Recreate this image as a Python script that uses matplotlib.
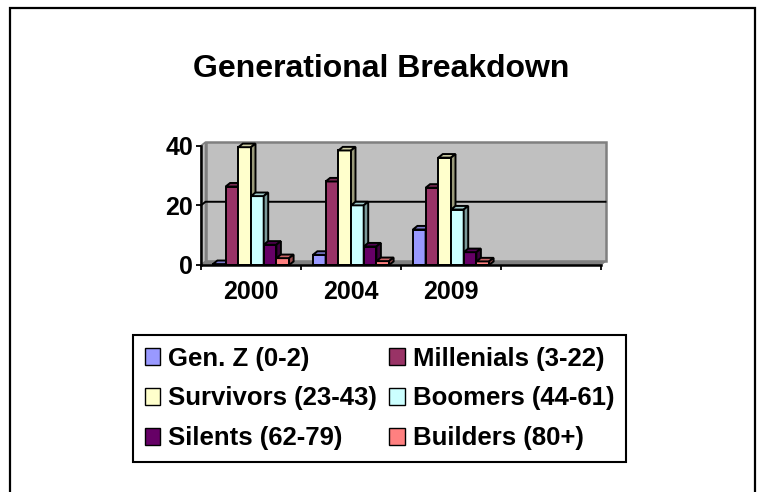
import numpy as np
import matplotlib
matplotlib.use("Agg")
import matplotlib.pyplot as plt
from matplotlib.patches import Polygon, Rectangle, Patch
from matplotlib.colors import to_rgb

plt.rcParams['font.family'] = ['Liberation Sans', 'DejaVu Sans']
plt.rcParams['font.weight'] = 'bold'

years = ['2000', '2004', '2009', '']
series_names = ['Gen. Z (0-2)', 'Millenials (3-22)', 'Survivors (23-43)',
                'Boomers (44-61)', 'Silents (62-79)', 'Builders (80+)']
gen_z = [0.3, 3.4, 11.9]
millenials = [26.3, 28.0, 25.9]
survivors = [39.5, 38.4, 36.0]
boomers = [23.1, 20.0, 18.6]
silents = [6.8, 6.2, 4.3]
builders = [2.3, 1.3, 1.2]
colors = ['#9999FF', '#993366', '#FFFFCC', '#CCFFFF', '#660066', '#FF8080']
y_ticks = [0, 20, 40]

values = [gen_z, millenials, survivors, boomers, silents, builders]


def shade(c, f):
    r, g, b = to_rgb(c)
    return (r * f, g * f, b * f)


W, H = 763, 492
fig = plt.figure(figsize=(W / 100, H / 100), dpi=100)
ax = fig.add_axes([201 / W, 1 - 265 / H, 400 / W, (265 - 145.7) / H])
ax.set_xlim(0, 4)
ax.set_ylim(0, 40)
ax.patch.set_visible(False)

dx, dy = 0.045, 1.2   # 3d depth in data units
bw = 0.127
lw = 1.4

# walls and floor
ax.add_patch(Polygon([(0, 0), (dx, dy), (dx, 40 + dy), (0, 40)], closed=True,
                     facecolor='#C0C0C0', edgecolor='#808080', lw=1.2, zorder=0, clip_on=False))
ax.add_patch(Rectangle((dx, dy), 4, 40, facecolor='#C0C0C0', edgecolor='#808080',
                       lw=1.8, zorder=0, clip_on=False))
ax.add_patch(Polygon([(0, 0), (dx, dy), (4 + dx, dy), (4, 0)], closed=True,
                     facecolor='#808080', edgecolor='#808080', lw=0.8, zorder=0.5, clip_on=False))
for t in y_ticks[1:-1]:
    ax.plot([0, dx, 4 + dx], [t, t + dy, t + dy], color='black', lw=1.4, zorder=1, clip_on=False)

# bars, left to right so the side faces overlap properly
k = 0
for c in range(len(gen_z)):
    for i, vals in enumerate(values):
        x0 = c + 0.5 + (i - 3) * bw
        h = vals[c]
        z = 3 + k * 0.1
        ax.bar(x0, h, width=bw, align='edge', color=colors[i], edgecolor='black',
               lw=lw, zorder=z, clip_on=False)
        x1 = x0 + bw
        ax.add_patch(Polygon([(x0, h), (x0 + dx, h + dy), (x1 + dx, h + dy), (x1, h)], closed=True,
                             facecolor=shade(colors[i], 0.8), edgecolor='black', lw=lw,
                             zorder=z, clip_on=False))
        ax.add_patch(Polygon([(x1, 0), (x1, h), (x1 + dx, h + dy), (x1 + dx, dy)], closed=True,
                             facecolor=shade(colors[i], 0.6), edgecolor='black', lw=lw,
                             zorder=z, clip_on=False))
        k += 1

# axes
for s in ['top', 'right']:
    ax.spines[s].set_visible(False)
for s in ['left', 'bottom']:
    ax.spines[s].set_linewidth(1.8)
    ax.spines[s].set_zorder(10)
ax.set_yticks(y_ticks)
ax.set_yticklabels([str(t) for t in y_ticks], fontsize=18, fontweight='bold')
ax.set_xticks(range(5))
ax.set_xticklabels([])
ax.set_xticks(np.arange(4) + 0.5, minor=True)
ax.set_xticklabels(years, minor=True, fontsize=18, fontweight='bold')
ax.tick_params(axis='both', which='major', direction='out', length=3.5, width=1.3, pad=2)
ax.tick_params(axis='x', which='minor', length=0, pad=11)

fig.text(0.5, 1 - 77 / H, 'Generational Breakdown', ha='center', va='baseline',
         fontsize=23, fontweight='bold')

handles = [Patch(facecolor=col, edgecolor='black', lw=1.0) for col in colors]
order = [0, 2, 4, 1, 3, 5]
leg = fig.legend([handles[j] for j in order], [series_names[j] for j in order],
                 ncol=2, loc='upper left', bbox_to_anchor=(133 / W, 1 - 335 / H),
                 borderaxespad=0, prop={'size': 18.5, 'weight': 'bold'},
                 handlelength=0.6, handleheight=0.6, handletextpad=0.3,
                 columnspacing=0.5, labelspacing=0.62, borderpad=0.45,
                 fancybox=False, edgecolor='black', framealpha=1)
leg.get_frame().set_linewidth(1.5)

fig.add_artist(Rectangle((9.5 / W, -0.1), (755 - 9.5) / W, 1.1 - 7.5 / H,
                         transform=fig.transFigure, fill=False, edgecolor='black', lw=1.6))

fig.savefig('out.png', dpi=100)
